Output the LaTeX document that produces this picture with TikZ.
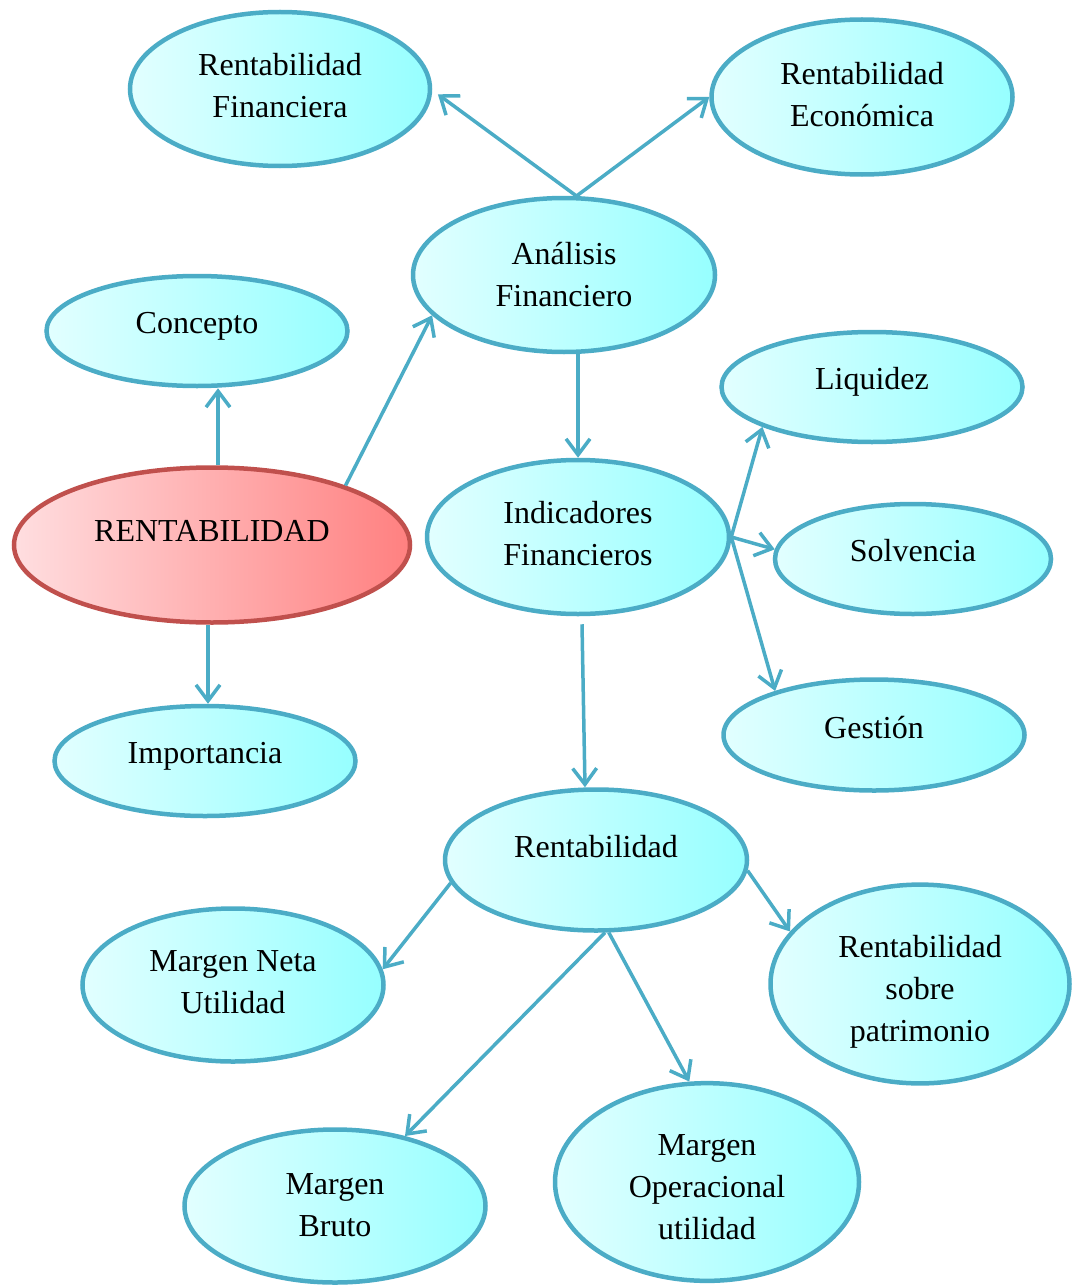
\documentclass[tikz,border=0pt]{standalone}
\usepackage{fontspec}
\setmainfont{Liberation Serif}
\usetikzlibrary{arrows.meta,
                shapes.geometric}
\definecolor{azulB}{HTML}{4BACC6}
\definecolor{rojoB}{HTML}{C0504D}

\begin{document}
\begin{tikzpicture}[x=1pt, y=-1pt,
   ELL/.style = {ellipse, line width=4.5pt, inner sep=0pt,
                 minimum width=301pt, minimum height=110pt,
                 align=center, font=\fontsize{32}{42}\selectfont,
                 execute at begin node=\strut,
                 execute at end node=\strut},
    CB/.style = {draw=azulB, left color={rgb,255:red,226;green,255;blue,255},
                 right color={rgb,255:red,150;green,255;blue,255}},% Color Blue
    CR/.style = {draw=rojoB, left color={rgb,255:red,255;green,222;blue,224},
                 right color={rgb,255:red,255;green,128;blue,128}},% Color Red
  lift/.style = {execute at end node={\rule[-#1]{0pt}{#1}}},% text up
  drop/.style = {execute at begin node={\rule{0pt}{#1}}},% text down
    AR/.style = {draw=azulB, line width=3.5pt,
                 -{Straight Barb[length=16pt,width=24pt]}}
                        ]
\useasboundingbox (0,0) rectangle (1074,1287);
% upper part
\node[ELL, CB, drop=70pt, minimum height=154pt, minimum width=300pt]
      (rf)  at (280,89)   {Rentabilidad\\Financiera};
\node[ELL, CB, drop=72pt, minimum height=155pt]
      (re)  at (862,97)   {Rentabilidad\\Económica};
\node[ELL, CB, drop=76.5pt, minimum height=154pt, minimum width=302pt]
      (ana) at (564,275)  {Análisis\\Financiero};
\node[ELL, CB, lift=24.6pt] (conc) at (197,331) {Concepto};
% centre
\node[ELL, CR, lift=36.6pt, minimum width=396pt, minimum height=155pt]
      (rent) at (212,545) {RENTABILIDAD};
\node[ELL, CB, lift=24.6pt] (imp)  at (205,761) {Importancia};
\node[ELL, CB, drop=70pt, minimum height=154pt, minimum width=302pt]
      (ind) at (578,537)  {Indicadores\\Financieros};
\node[ELL, CB, lift=24.6pt] (liq)  at (872,387) {Liquidez};
\node[ELL, CB, lift=24.6pt, minimum width=276pt] (solv) at (913,559) {Solvencia};
\node[ELL, CB, lift=22.6pt, minimum height=111pt] (gest) at (874,735) {Gestión};
% lower part
\node[ELL, CB, lift=34.6pt, minimum height=141pt, minimum width=302pt]
      (rtb) at (596,860)  {Rentabilidad};
\node[ELL, CB, drop=69.2pt, minimum height=153pt]
      (mnu) at (233,985)  {Margen Neta\\Utilidad};
\node[ELL, CB, drop=128pt, minimum height=196pt, minimum width=299pt]
      (rsp) at (920,984)  {Rentabilidad\\sobre\\patrimonio};
\node[ELL, CB, drop=73.2pt, minimum height=153pt]
      (mb)  at (335,1206) {Margen\\Bruto};
\node[ELL, CB, drop=127.2pt, minimum height=192pt, minimum width=304pt]
      (mou) at (707,1182) {Margen\\Operacional\\utilidad};
% arrows
\draw[AR] (ana.81) -- ([xshift=6pt]rf.-2);
\draw[AR] (ana.81) -- (re.west);
\draw[AR] (rent.24) -- (ana.197);
\draw[AR] ([xshift=6pt]rent.north) -- ([xshift=6pt]rent.north |- conc.south);
\draw[AR] ([xshift=-4pt]rent.south) -- ([xshift=-4pt]rent.south |- imp.north);
\draw[AR] (ana.south -| ind) -- (ind.north);
\draw[AR] (ind.east) -- (liq.200);
\draw[AR] (ind.east) -- (solv.176);
\draw[AR] (ind.east) -- (gest.156);
\draw[AR] ([xshift=4pt,yshift=-8pt]ind.south) -- ([xshift=-11pt]rtb.north);
\draw[AR] (rtb.189) -- (mnu.6);
\draw[AR] (rtb.-83) -- (mb.45);
\draw[AR] (rtb.-80) -- (mou.100);
\draw[AR] (rtb.-4) -- (rsp.158);
\end{tikzpicture}
\end{document}
